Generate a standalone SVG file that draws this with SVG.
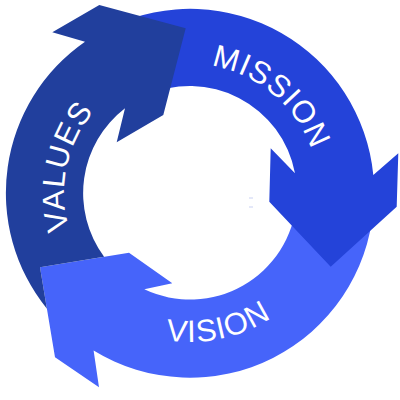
<svg xmlns="http://www.w3.org/2000/svg" width="400" height="400" viewBox="0 0 400 400">
  <style>
    .lbl { font-family: "Liberation Sans", Arial, sans-serif; font-size: 31px; fill: #ffffff; letter-spacing: 1px; }
  </style>
  <defs>
    <path id="pMission" d="M 107.08,94.18 A 129 129 0 0 1 301.72,257.5"/>
    <path id="pValues" d="M 142.80,309.82 A 126 126 0 0 1 194.40,67.08"/>
    <path id="pVision" d="M 51.85,248.82 A 149 149 0 0 0 338.91,187.80"/>
  </defs>
  <rect width="400" height="400" fill="#ffffff"/>
  <g id="vision">
    <path fill="#4664FA" d="M 373.3,209 A 184 184 0 0 1 93.6,350.5 L 99,387.3 L 55,357.3 L 40,267.3 L 129,252.7 L 172.3,283.3 L 144.3,289.3 A 107 107 0 0 0 296.6,202.3 Z"/>
    <text class="lbl" text-anchor="middle"><textPath href="#pVision" startOffset="50%">VISION</textPath></text>
  </g>
  <g id="mission">
    <path fill="#2443D9" d="M 112.2,26.2 A 184 184 0 0 1 373.3,175 L 398.3,153.3 L 396.7,206.7 L 330.7,266.7 L 269.3,201.7 L 270.7,148.3 L 295,173.3 A 107 107 0 0 0 144.8,96 Z"/>
    <text class="lbl" text-anchor="middle"><textPath href="#pMission" startOffset="50%">MISSION</textPath></text>
  </g>
  <g id="values">
    <path fill="#213F9D" d="M 46.9,308.7 A 184 184 0 0 1 85,41.7 L 52.3,32.3 L 99.3,5 L 185.7,28.3 L 163.3,115 L 116.7,142.3 L 125,108.3 A 107 107 0 0 0 104.1,256.8 L 40,267.3 Z"/>
    <text class="lbl" text-anchor="middle"><textPath href="#pValues" startOffset="50%">VALUES</textPath></text>
  </g>
  <g id="connectors"></g>
  <rect x="249" y="197.5" width="4" height="1" fill="#c9d1f3"/>
  <rect x="249" y="206.5" width="4" height="1" fill="#c9d1f3"/>
</svg>
